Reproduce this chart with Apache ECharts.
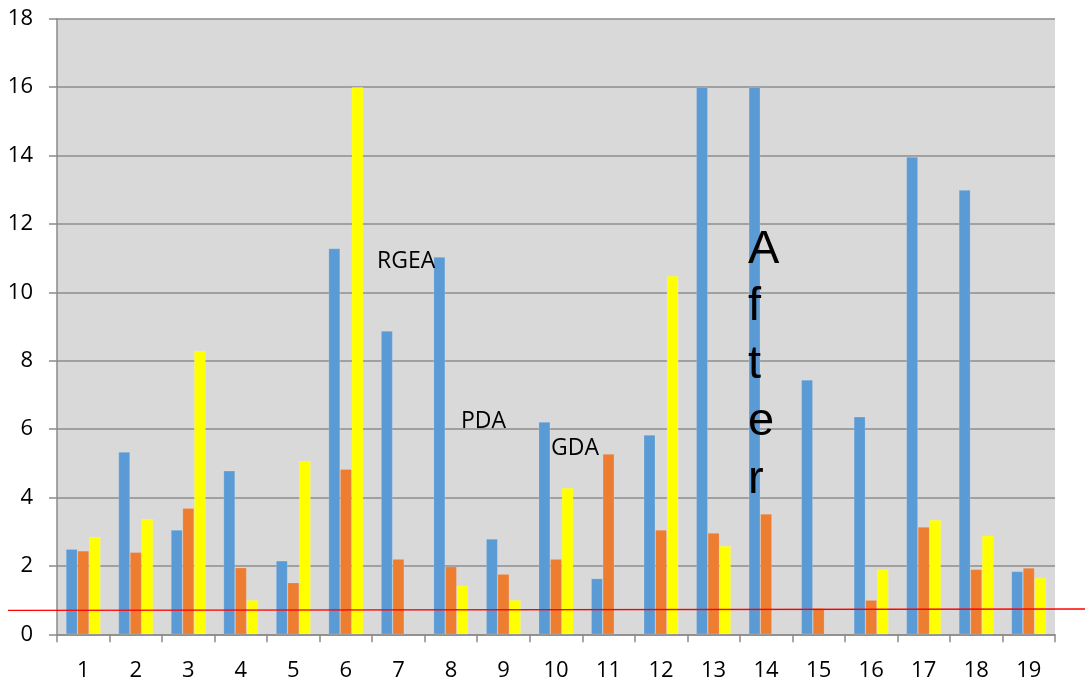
<!DOCTYPE html>
<html>
<head>
<meta charset="utf-8">
<script src="https://cdn.jsdelivr.net/npm/echarts@6/dist/echarts.min.js"></script>
<style>
  html, body { margin: 0; padding: 0; background: #ffffff; }
  #chart { width: 1085px; height: 678px; }
</style>
</head>
<body>
<div id="chart"></div>
<script>
// Categories 1..19 along the bottom
const categories = ['1','2','3','4','5','6','7','8','9','10','11','12','13','14','15','16','17','18','19'];

// Three series per category (blue, orange, yellow); null = no bar
const blueValues   = [2.49, 5.33, 3.05, 4.78, 2.15, 11.28, 8.87, 11.03, 2.79, 6.21, 1.63, 5.83, 16.0, 16.0, 7.44, 6.36, 13.96, 12.99, 1.84];
const orangeValues = [2.44, 2.40, 3.69, 1.95, 1.51, 4.83, 2.20, 1.98, 1.76, 2.20, 5.27, 3.05, 2.96, 3.52, 0.76, 1.00, 3.14, 1.90, 1.94];
const yellowValues = [2.85, 3.37, 8.29, 1.00, 5.07, 16.0, null, 1.42, 1.00, 4.28, null, 10.48, 2.58, null, null, 1.89, 3.34, 2.88, 1.65];

// Value axis range and tick labels
const yMin = 0, yMax = 18, yStep = 2;

// Horizontal reference line (value at left and right end)
const refLineStart = 0.70;
const refLineEnd = 0.74;

// Free-floating annotations
const notes = [
  { text: 'RGEA', x: 377, y: 250 },
  { text: 'PDA',  x: 461, y: 410 },
  { text: 'GDA',  x: 551, y: 437 }
];
const verticalNote = 'After';

const chart = echarts.init(document.getElementById('chart'), null, { renderer: 'canvas' });

const barStyle = (color) => ({
  color: color,
  borderColor: 'rgba(255,255,255,0.25)',
  borderWidth: 0.6
});

chart.setOption({
  animation: false,
  backgroundColor: '#ffffff',
  textStyle: { fontFamily: 'Open Sans' },
  grid: {
    left: 57, top: 18.7, right: 30, bottom: 43.7,
    outerBoundsMode: 'none',
    containLabel: false,
    show: true, backgroundColor: '#d9d9d9', borderWidth: 0
  },
  xAxis: {
    type: 'category',
    data: categories,
    axisLine: { show: true, lineStyle: { color: '#8a8a8a', width: 1.5 } },
    axisTick: { show: true, length: 8, alignWithLabel: false, lineStyle: { color: '#8a8a8a', width: 1.5 } },
    axisLabel: { color: '#000000', fontSize: 22, margin: 25, fontFamily: 'Open Sans' },
    splitLine: { show: false }
  },
  yAxis: {
    type: 'value',
    min: yMin, max: yMax, interval: yStep,
    axisLine: { show: true, lineStyle: { color: '#8a8a8a', width: 1.5 } },
    axisTick: { show: true, length: 8, lineStyle: { color: '#8a8a8a', width: 1.5 } },
    axisLabel: { color: '#000000', fontSize: 22, margin: 24, fontFamily: 'Open Sans' },
    splitLine: { show: true, lineStyle: { color: '#8c8c8c', width: 1.5 } }
  },
  series: [
    { type: 'bar', data: blueValues, barGap: '0%', barCategoryGap: '34%', itemStyle: barStyle('#5b9bd5') },
    { type: 'bar', data: orangeValues, barGap: '0%', barCategoryGap: '34%', itemStyle: barStyle('#ed7d31') },
    { type: 'bar', data: yellowValues, barGap: '0%', barCategoryGap: '34%', itemStyle: barStyle('#ffff00') }
  ]
});

// Reference line spans the full width, beyond the plot area
const yLeft = chart.convertToPixel({ yAxisIndex: 0 }, refLineStart);
const yRight = chart.convertToPixel({ yAxisIndex: 0 }, refLineEnd);

const graphics = [
  {
    type: 'line', z: 100,
    shape: { x1: 8, y1: yLeft, x2: 1085, y2: yRight },
    style: { stroke: '#ff0000', lineWidth: 1.4 }
  }
];
notes.forEach(n => graphics.push({
  type: 'text', z: 100, left: n.x, top: n.y,
  style: { text: n.text, fill: '#000000', font: '23px "Open Sans"' }
}));
graphics.push({
  type: 'text', z: 100, left: 748, top: 221,
  style: {
    text: verticalNote.split('').join('\n'),
    fill: '#000000',
    font: '47px "Liberation Sans"',
    lineHeight: 57.5
  }
});

chart.setOption({ graphic: graphics });
</script>
</body>
</html>
